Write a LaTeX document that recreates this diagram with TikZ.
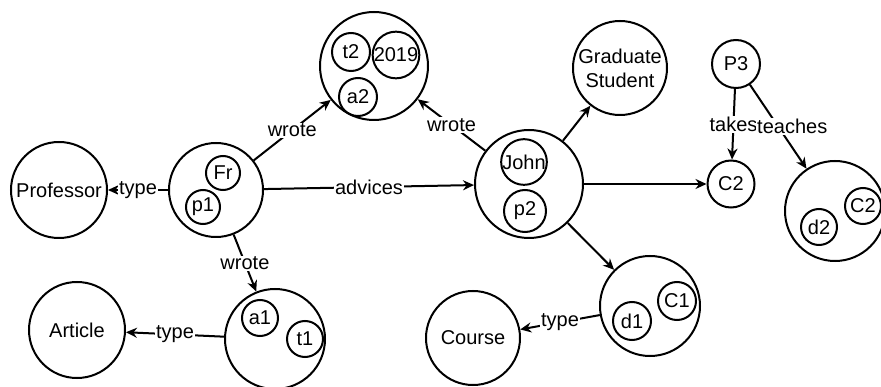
\documentclass[tikz,border=0pt]{standalone}
\usepackage{fontspec}
\setmainfont{Liberation Sans}
\usetikzlibrary{arrows.meta}

\tikzset{
  set/.style={draw, circle, line width=2pt, inner sep=0pt},
  lbl/.style={fill=white, inner sep=1pt},
  rel/.style={line width=2pt, -{Stealth[length=11pt,width=10pt]}},
}

\begin{document}
\begin{tikzpicture}[x=1pt, y=-1pt, font=\fontsize{20}{24}\selectfont]
\useasboundingbox (0,0) rectangle (881,387);

\node[set, minimum size=96pt] (prof) at (59,190) {Professor};
\node[set, minimum size=94pt] (s1) at (216,190) {};
\node[set, minimum size=34pt] (fr) at (223,173) {Fr};
\node[set, minimum size=34pt] (p1) at (203,207) {p1};

\node[set, minimum size=108pt] (s2) at (374,66) {};
\node[set, minimum size=38pt] (t2) at (351,52) {t2};
\node[set, minimum size=46pt] (y2019) at (396,55) {2019};
\node[set, minimum size=38pt] (a2) at (358,97) {a2};

\node[set, minimum size=108pt] (s3) at (529,184) {};
\node[set, minimum size=44pt] (john) at (524,162) {John};
\node[set, minimum size=42pt] (p2) at (525,211) {p2};

\node[set, minimum size=94pt, align=center] (grad) at (620,68) {Graduate\\Student};
\node[set, minimum size=48pt] (p3) at (736,64) {P3};
\node[set, minimum size=47pt] (c2) at (731,184) {C2};
\node[set, minimum size=100pt] (s6) at (835,211) {};
\node[set, minimum size=36pt] (d2) at (819,227) {d2};
\node[set, minimum size=36pt] (c2b) at (863,206) {C2};

\node[set, minimum size=96pt] (article) at (77,330) {Article};
\node[set, minimum size=100pt] (s4) at (275,339) {};
\node[set, minimum size=36pt] (a1) at (260,318) {a1};
\node[set, minimum size=36pt] (t1) at (305,339) {t1};

\node[set, minimum size=94pt] (course) at (473,338) {Course};
\node[set, minimum size=100pt] (s5) at (650,306) {};
\node[set, minimum size=38pt] (d1) at (632,321) {d1};
\node[set, minimum size=38pt] (c1) at (677,301) {C1};

\path[draw,rel] (s1) -- node[lbl] {type} (prof);
\path[draw,rel] (s1) -- node[lbl] {wrote} (s2);
\path[draw,rel] (s1) -- node[lbl] {wrote} (s4);
\path[draw,rel] (s1) -- node[lbl] {advices} (s3);
\path[draw,rel] (s3) -- node[lbl] {wrote} (s2);
\path[draw,rel] (s3) -- (grad);
\path[draw,rel] (s3) -- (c2);
\path[draw,rel] (s3) -- (s5);
\path[draw,rel] (s4) -- node[lbl] {type} (article);
\path[draw,rel] (s5) -- node[lbl] {type} (course);
\path[draw,rel] (p3) -- node[lbl] {takes} (c2);
\path[draw,rel] (p3) -- node[lbl, xshift=14pt] {teaches} (s6);
\end{tikzpicture}
\end{document}
